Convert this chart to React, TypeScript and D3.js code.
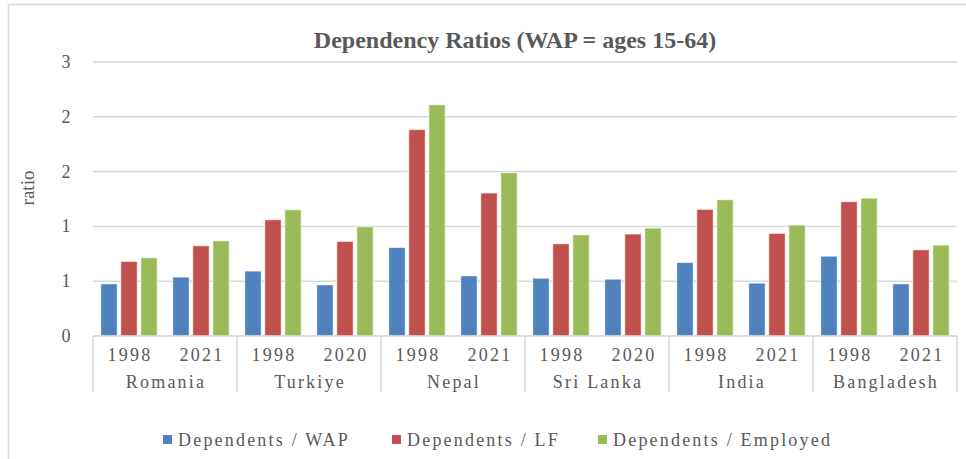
import React from "react";
import * as d3 from "d3";

// data
const countries = ["Romania", "Turkiye", "Nepal", "Sri Lanka", "India", "Bangladesh"];
const years = [
  ["1998", "2021"],
  ["1998", "2020"],
  ["1998", "2021"],
  ["1998", "2020"],
  ["1998", "2021"],
  ["1998", "2021"],
];
const seriesNames = ["Dependents / WAP", "Dependents / LF", "Dependents / Employed"];
const depWap = [0.475, 0.537, 0.592, 0.466, 0.807, 0.548, 0.527, 0.518, 0.67, 0.482, 0.728, 0.475];
const depLf = [0.68, 0.823, 1.06, 0.862, 1.883, 1.304, 0.841, 0.93, 1.155, 0.935, 1.225, 0.786];
const depEmp = [0.713, 0.868, 1.152, 0.996, 2.109, 1.49, 0.923, 0.984, 1.243, 1.012, 1.258, 0.829];
const yTickValues = [0, 0.5, 1, 1.5, 2, 2.5];
const yTickLabels = ["0", "1", "1", "2", "2", "3"];

const colors = ["#4f81bd", "#c0504d", "#9bbb59"];
const textColor = "#595959";
const gridColor = "#d9d9d9";
const font = '"Liberation Serif", "DejaVu Serif", serif';

const W = 966;
const H = 459;
const plot = { left: 93, right: 957, top: 62, bottom: 336 };

const App = () => {
  const groups = countries.flatMap((c, ci) => years[ci].map((y) => `${c}|${y}`));
  const series = [depWap, depLf, depEmp];

  const x = d3.scaleBand().domain(groups).range([plot.left, plot.right]).padding(0);
  const inner = d3
    .scaleBand()
    .domain(seriesNames)
    .range([0, x.bandwidth()])
    .paddingInner(0.185)
    .paddingOuter(0.39);
  const y = d3.scaleLinear().domain([0, 2.5]).range([plot.bottom, plot.top]);

  const countryWidth = x.bandwidth() * 2;
  const legendX = [163, 392, 598];

  return (
    <svg
      width={W}
      height={H}
      style={{ position: "absolute", left: 0, top: 0, background: "#fff", fontFamily: font }}
    >
      {/* chart frame */}
      <rect x={8.5} y={4.5} width={1000} height={500} fill="#fff" stroke={gridColor} strokeWidth={1.5} />

      <text
        x={515}
        y={48}
        textAnchor="middle"
        fontSize={24}
        fontWeight="bold"
        fill={textColor}
      >
        Dependency Ratios (WAP = ages 15-64)
      </text>

      {/* gridlines + y ticks */}
      {yTickValues.map((v, i) => (
        <g key={i}>
          <line
            x1={plot.left}
            x2={plot.right}
            y1={y(v)}
            y2={y(v)}
            stroke={gridColor}
            strokeWidth={1.5}
          />
          <text
            x={67}
            y={y(v) + 6}
            textAnchor="middle"
            fontSize={18}
            letterSpacing={2}
            fill={textColor}
          >
            {yTickLabels[i]}
          </text>
        </g>
      ))}

      <text
        transform={`translate(34,188) rotate(-90)`}
        textAnchor="middle"
        fontSize={19}
        fill={textColor}
      >
        ratio
      </text>

      {/* bars */}
      {groups.map((g, gi) =>
        series.map((s, si) => (
          <rect
            key={`${gi}-${si}`}
            x={(x(g) ?? 0) + (inner(seriesNames[si]) ?? 0)}
            y={y(s[gi])}
            width={inner.bandwidth()}
            height={y(0) - y(s[gi])}
            fill={colors[si]}
            stroke="#ffffff"
            strokeOpacity={0.55}
            strokeWidth={1}
          />
        ))
      )}

      {/* category axis */}
      <line x1={plot.left} x2={plot.right} y1={plot.bottom} y2={plot.bottom} stroke={gridColor} strokeWidth={1.5} />
      {d3.range(countries.length + 1).map((i) => (
        <line
          key={i}
          x1={plot.left + i * countryWidth}
          x2={plot.left + i * countryWidth}
          y1={plot.bottom}
          y2={392}
          stroke={gridColor}
          strokeWidth={1.5}
        />
      ))}
      {groups.map((g) => (
        <text
          key={g}
          x={(x(g) ?? 0) + x.bandwidth() / 2 + 1}
          y={361}
          textAnchor="middle"
          fontSize={18}
          letterSpacing={2.2}
          fill={textColor}
        >
          {g.split("|")[1]}
        </text>
      ))}
      {countries.map((c, i) => (
        <text
          key={c}
          x={plot.left + (i + 0.5) * countryWidth + 1}
          y={388}
          textAnchor="middle"
          fontSize={18}
          letterSpacing={2.2}
          fill={textColor}
        >
          {c}
        </text>
      ))}

      {/* legend */}
      {seriesNames.map((name, i) => (
        <g key={name} transform={`translate(${legendX[i]},440)`}>
          <rect x={0} y={-5} width={9} height={9} fill={colors[i]} />
          <text x={15} y={6} fontSize={18} letterSpacing={2.2} fill={textColor}>
            {name}
          </text>
        </g>
      ))}
    </svg>
  );
};

export default App;
